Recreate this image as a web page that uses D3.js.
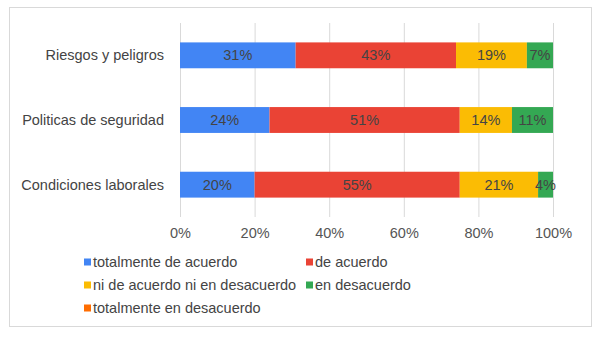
<!DOCTYPE html>
<html><head><meta charset="utf-8">
<script src="https://cdn.jsdelivr.net/npm/d3@7"></script>
<style>body{margin:0;background:#fff}svg{display:block}</style>
</head><body>
<svg id="c" width="600" height="337"></svg>
<script>
const categories = ["Riesgos y peligros", "Politicas de seguridad", "Condiciones laborales"];
const seriesNames = ["totalmente de acuerdo", "de acuerdo", "ni de acuerdo ni en desacuerdo", "en desacuerdo", "totalmente en desacuerdo"];
const totalmenteDeAcuerdo = [31, 24, 20];
const deAcuerdo = [43, 51, 55];
const niDeAcuerdo = [19, 14, 21];
const enDesacuerdo = [7, 11, 4];
const totalmenteEnDesacuerdo = [0, 0, 0];
const tickValues = [0, 20, 40, 60, 80, 100];
const colors = ["#4285F4", "#EA4335", "#FBBC04", "#34A853", "#FF6D01"];

const seriesValues = [totalmenteDeAcuerdo, deAcuerdo, niDeAcuerdo, enDesacuerdo, totalmenteEnDesacuerdo];
const rows = categories.map((c, i) => {
  const o = {cat: c};
  seriesNames.forEach((s, j) => o[s] = seriesValues[j][i]);
  return o;
});
const stack = d3.stack().keys(seriesNames)(rows);

const svg = d3.select("#c");
const font = "Liberation Sans, Arial, sans-serif";
const fs = 14.5;
svg.append("rect").attr("x", 9.5).attr("y", 7.5).attr("width", 582).attr("height", 319)
  .attr("fill", "#fff").attr("stroke", "#d9d9d9");

const x = d3.scaleLinear().domain([0, 100]).range([180, 553]);
const y = d3.scaleBand().domain(categories).range([23, 217]).paddingInner(0.6).paddingOuter(0.3);

// grid
svg.append("g").selectAll("line").data(tickValues).join("line")
  .attr("x1", d => x(d) + 0.5).attr("x2", d => x(d) + 0.5)
  .attr("y1", 23).attr("y2", 217)
  .attr("stroke", "#d9d9d9").attr("stroke-width", 1);

// bars
const g = svg.append("g");
stack.forEach((layer, j) => {
  g.selectAll(null).data(layer).join("rect")
    .attr("x", d => x(d[0])).attr("width", d => x(d[1]) - x(d[0]))
    .attr("y", d => y(d.data.cat)).attr("height", y.bandwidth())
    .attr("fill", colors[j]);
});
stack.forEach((layer, j) => {
  g.selectAll(null).data(layer.filter(d => d[1] - d[0] > 0)).join("text")
    .attr("x", d => (x(d[0]) + x(d[1])) / 2)
    .attr("y", d => y(d.data.cat) + y.bandwidth() / 2)
    .attr("dy", "0.35em").attr("text-anchor", "middle")
    .attr("font-family", font).attr("font-size", fs).attr("fill", "#444")
    .text(d => (d[1] - d[0]) + "%");
});

// category labels
svg.append("g").selectAll("text").data(categories).join("text")
  .attr("x", 164).attr("y", d => y(d) + y.bandwidth() / 2).attr("dy", "0.35em")
  .attr("text-anchor", "end").attr("font-family", font).attr("font-size", fs)
  .attr("fill", "#444").text(d => d);

// x axis
const ax = svg.append("g").attr("transform", "translate(0,225)")
  .call(d3.axisBottom(x).tickValues(tickValues).tickFormat(d => d + "%").tickSize(0));
ax.select(".domain").remove();
ax.selectAll("text").attr("font-family", font).attr("font-size", fs).attr("fill", "#555");

// legend
const legPos = [[84, 262], [306, 262], [84, 285], [306, 285], [84, 308]];
const lg = svg.append("g");
seriesNames.forEach((s, j) => {
  const [lx, ly] = legPos[j];
  lg.append("rect").attr("x", lx).attr("y", ly - 3.5).attr("width", 7).attr("height", 7).attr("fill", colors[j]);
  lg.append("text").attr("x", lx + 9).attr("y", ly).attr("dy", "0.35em")
    .attr("font-family", font).attr("font-size", fs).attr("fill", "#444").text(s);
});
</script>
</body></html>
